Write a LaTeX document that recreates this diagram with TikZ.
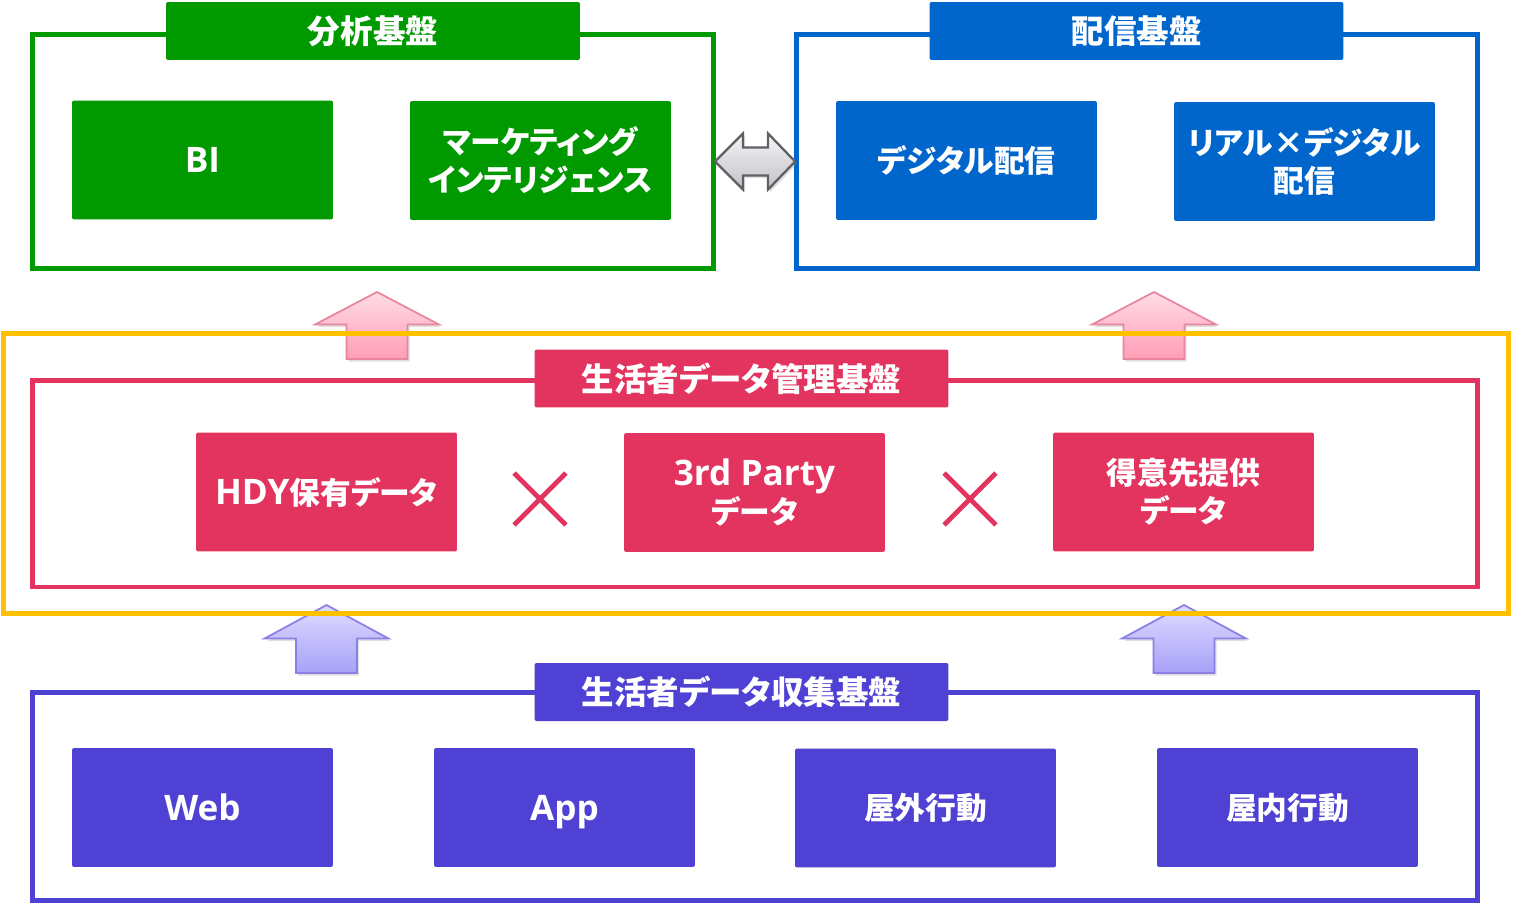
\documentclass[tikz,border=0pt]{standalone}
\usepackage{fontspec}
\setmainfont{Noto Sans CJK JP}[RawFeature=+palt]
\newfontfamily\latinfont{Open Sans}
\newcommand\lat[1]{{\latinfont\fontsize{20}{21.5}\selectfont #1}}
\usepackage{tikz}
\usetikzlibrary{shapes.misc, positioning, calc, shadows}
\usepackage{xcolor}
\definecolor{AnaGreen}{HTML}{009900}
\definecolor{DelBlue}{HTML}{0066CC}
\definecolor{MgmtRed}{HTML}{E3345F}
\definecolor{CollPurple}{HTML}{4F41D3}
\definecolor{HubOrange}{HTML}{FFC000}
\definecolor{PinkTop}{HTML}{FFDCE5}
\definecolor{PinkBottom}{HTML}{FF9DB7}
\definecolor{PinkLine}{HTML}{E8869E}
\definecolor{LavTop}{HTML}{DEDCFF}
\definecolor{LavBottom}{HTML}{A8A0F7}
\definecolor{LavLine}{HTML}{8A80E6}
\definecolor{GrayTop}{HTML}{F6F6F8}
\definecolor{GrayBottom}{HTML}{C0C0C6}
\definecolor{GrayLine}{HTML}{5F5F64}
\tikzset{
    % Frame styles
    areaframe/.style={
        rectangle,
        line width=2.6pt,
        inner sep=0pt,
        outer sep=0pt
    },
    titletab/.style={
        rectangle,
        rounded corners=1.2pt,
        text=white,
        minimum width=8.28cm,
        minimum height=1.16cm,
        inner sep=0pt,
        font=\fontsize{18.5}{20}\selectfont\bfseries
    },
    itembox/.style={
        rectangle,
        rounded corners=1.2pt,
        text=white,
        minimum width=5.22cm,
        minimum height=2.38cm,
        inner sep=0pt,
        align=center,
        font=\fontsize{17.5}{21.5}\selectfont\bfseries
    },
    crossmark/.style={
        cross out,
        draw=MgmtRed,
        line width=2.8pt,
        minimum size=0.94cm,
        inner sep=0pt
    },
    % Block arrow styles
    pinkarrow/.style={
        draw=PinkLine,
        line width=1pt,
        top color=PinkTop,
        bottom color=PinkBottom,
        drop shadow={shadow xshift=1.2pt, shadow yshift=-1.5pt, opacity=0.25}
    },
    lavarrow/.style={
        draw=LavLine,
        line width=1pt,
        top color=LavTop,
        bottom color=LavBottom,
        drop shadow={shadow xshift=1.2pt, shadow yshift=-1.5pt, opacity=0.25}
    },
    linkarrow/.style={
        draw=GrayLine,
        line width=1.3pt,
        line join=miter,
        top color=GrayTop,
        bottom color=GrayBottom,
        drop shadow={shadow xshift=1.2pt, shadow yshift=-1.5pt, opacity=0.25}
    }
}

\begin{document}
\begin{tikzpicture}[x=0.02cm, y=-0.02cm]
    \useasboundingbox (0,0) rectangle (1513,905);

    % Upward arrows: collection -> management
    \shadedraw[lavarrow] (326.5,605) -- (388.5,638.5) -- (357,638.5) -- (357,673)
        -- (296,673) -- (296,638.5) -- (264.5,638.5) -- cycle;
    \shadedraw[lavarrow] (1184,605) -- (1246,638.5) -- (1214.5,638.5) -- (1214.5,673)
        -- (1153.5,673) -- (1153.5,638.5) -- (1122,638.5) -- cycle;

    % Upward arrows: management -> analysis / delivery
    \shadedraw[pinkarrow] (377,292) -- (439,324.5) -- (407.5,324.5) -- (407.5,359)
        -- (346.5,359) -- (346.5,324.5) -- (315,324.5) -- cycle;
    \shadedraw[pinkarrow] (1154,292) -- (1216,324.5) -- (1184.5,324.5) -- (1184.5,359)
        -- (1123.5,359) -- (1123.5,324.5) -- (1092,324.5) -- cycle;

    % Outer hub frame
    \node[areaframe, draw=HubOrange, minimum width=30.1cm, minimum height=5.6cm] (hubframe) at (756,473.5) {};

    % Analysis platform
    \node[areaframe, draw=AnaGreen, minimum width=13.62cm, minimum height=4.68cm] (anaframe) at (373,151.5) {};
    \node[titletab, fill=AnaGreen] (anatab) at (373,31) {分析基盤};
    \node[itembox, fill=AnaGreen] (bi) at (202.5,160) {\lat{BI}};
    \node[itembox, fill=AnaGreen] (mi) at (540.5,160.5) {マーケティング\\インテリジェンス};

    % Delivery platform
    \node[areaframe, draw=DelBlue, minimum width=13.62cm, minimum height=4.68cm] (delframe) at (1137,151.5) {};
    \node[titletab, fill=DelBlue] (deltab) at (1136.5,31) {配信基盤};
    \node[itembox, fill=DelBlue] (digital) at (966.5,160.5) {デジタル配信};
    \node[itembox, fill=DelBlue] (realdig) at (1304.5,161.5) {リアル×デジタル\\配信};

    % Link between analysis and delivery
    \coordinate (dl) at ($(anaframe.east)+(1.5,10)$);
    \coordinate (dr) at ($(delframe.west)+(-1.5,10)$);
    \shadedraw[linkarrow] (dl) -- ($(dl)+(28,-28)$) -- ($(dl)+(28,-14)$) -- ($(dr)+(-27,-14)$)
        -- ($(dr)+(-27,-28)$) -- (dr) -- ($(dr)+(-27,28)$) -- ($(dr)+(-27,14)$)
        -- ($(dl)+(28,14)$) -- ($(dl)+(28,28)$) -- cycle;

    % Consumer data management platform
    \node[areaframe, draw=MgmtRed, minimum width=28.9cm, minimum height=4.13cm] (mgmtframe) at (755,483.75) {};
    \node[titletab, fill=MgmtRed] (mgmttab) at (741.5,378.5) {生活者データ管理基盤};
    \node[itembox, fill=MgmtRed] (hdy) at (326.5,492) {\lat{HDY}保有データ};
    \node[itembox, fill=MgmtRed] (third) at (754.5,492.5) {\lat{3rd Party}\\データ};
    \node[itembox, fill=MgmtRed] (client) at (1183.5,492) {得意先提供\\データ};
    \node[crossmark] (x1) at (540,499) {};
    \node[crossmark] (x2) at (970,499) {};

    % Consumer data collection platform
    \node[areaframe, draw=CollPurple, minimum width=28.9cm, minimum height=4.16cm] (collframe) at (755,796.5) {};
    \node[titletab, fill=CollPurple] (colltab) at (741.5,692) {生活者データ収集基盤};
    \node[itembox, fill=CollPurple] (web) at (202.5,807.5) {\lat{Web}};
    \node[itembox, fill=CollPurple, text depth=0pt] (app) at (564.5,807.5) {\lat{App}};
    \node[itembox, fill=CollPurple] (outdoor) at (925.5,808) {屋外行動};
    \node[itembox, fill=CollPurple] (indoor) at (1287.5,807.5) {屋内行動};
\end{tikzpicture}
\end{document}
